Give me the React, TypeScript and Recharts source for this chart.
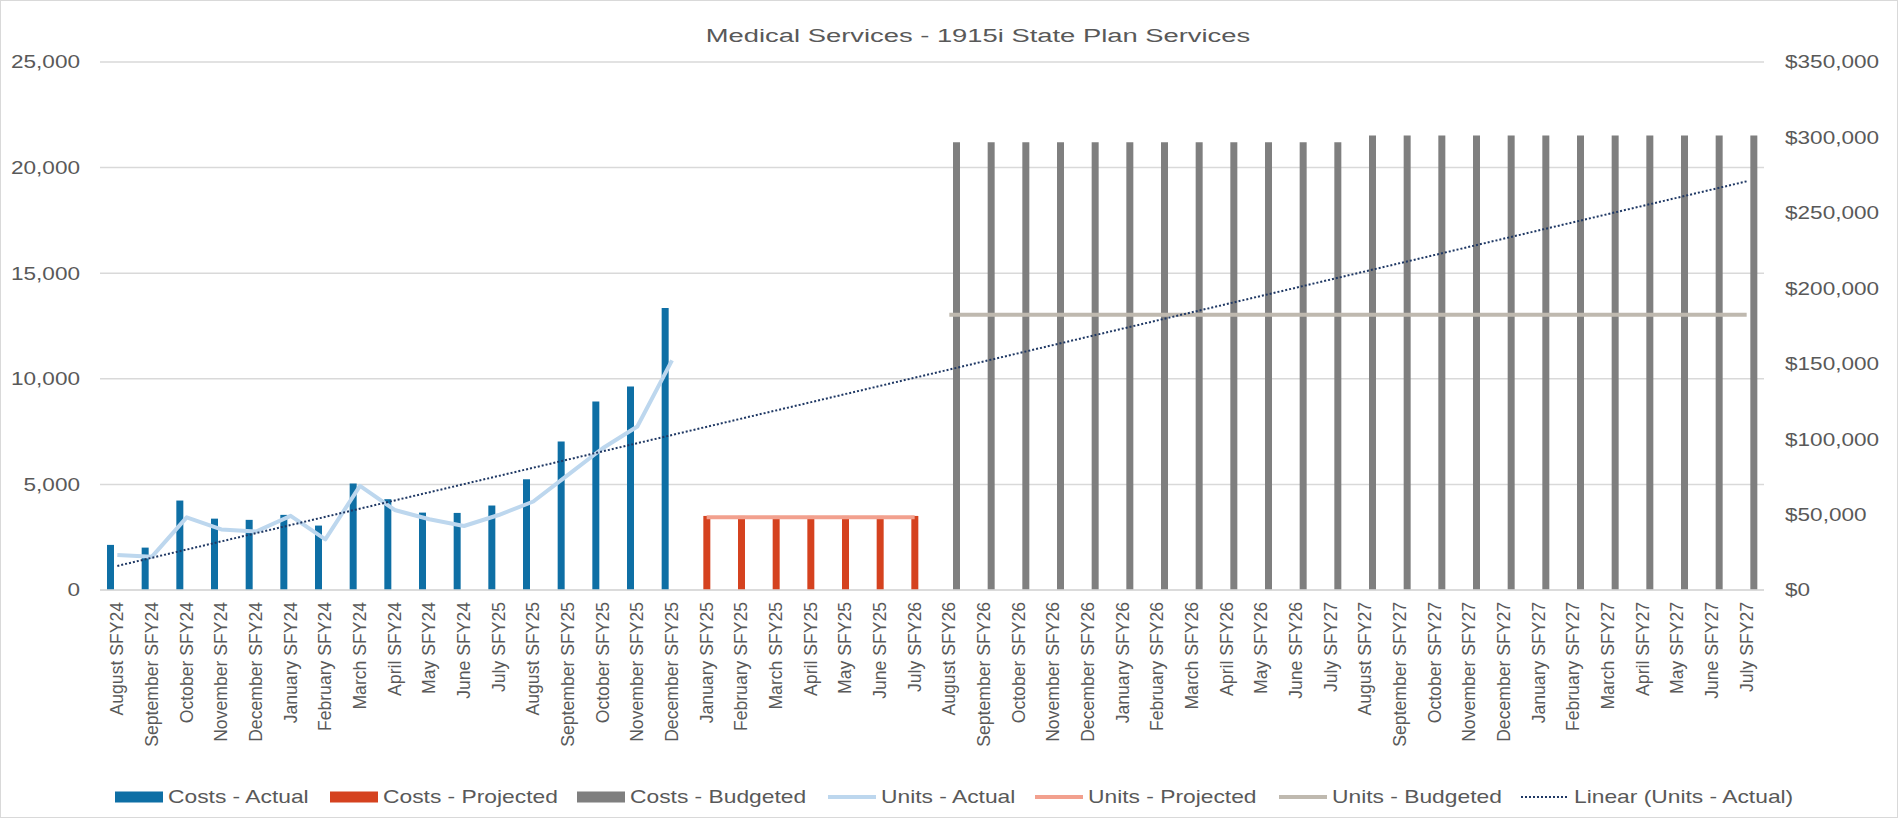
import React from "react";
import { ComposedChart, Bar, Line, XAxis, YAxis, CartesianGrid } from "recharts";

// ── data ──
const months = [
  "August SFY24", "September SFY24", "October SFY24", "November SFY24", "December SFY24",
  "January SFY24", "February SFY24", "March SFY24", "April SFY24", "May SFY24", "June SFY24",
  "July SFY25", "August SFY25", "September SFY25", "October SFY25", "November SFY25",
  "December SFY25", "January SFY25", "February SFY25", "March SFY25", "April SFY25",
  "May SFY25", "June SFY25", "July SFY26", "August SFY26", "September SFY26", "October SFY26",
  "November SFY26", "December SFY26", "January SFY26", "February SFY26", "March SFY26",
  "April SFY26", "May SFY26", "June SFY26", "July SFY27", "August SFY27", "September SFY27",
  "October SFY27", "November SFY27", "December SFY27", "January SFY27", "February SFY27",
  "March SFY27", "April SFY27", "May SFY27", "June SFY27", "July SFY27",
];

// costs (right axis, $)
const costsActual = [
  29900, 28100, 59300, 47300, 46500, 49800, 42700, 70600, 60200, 51300, 51100, 56000,
  73400, 98400, 125000, 134900, 186900,
];
const PROJECTED_START = 17;
const costsProjected = [49100, 49100, 49100, 49100, 49100, 49100, 49100];
const BUDGETED_START = 24;
const costsBudgeted = [
  296800, 296800, 296800, 296800, 296800, 296800, 296800, 296800, 296800, 296800, 296800, 296800,
  301300, 301300, 301300, 301300, 301300, 301300, 301300, 301300, 301300, 301300, 301300, 301300,
];

// units (left axis)
const unitsActual = [
  1660, 1580, 3440, 2870, 2770, 3510, 2400, 4930, 3790, 3350, 3030, 3550, 4190, 5450, 6710,
  7740, 10870,
];
const unitsProjected = [3440, 3440, 3440, 3440, 3440, 3440, 3440];
const unitsBudgeted = [
  13030, 13030, 13030, 13030, 13030, 13030, 13030, 13030, 13030, 13030, 13030, 13030,
  13030, 13030, 13030, 13030, 13030, 13030, 13030, 13030, 13030, 13030, 13030, 13030,
];
// trendline end points (first and last month)
const unitsTrend = [1140, 19350];

const leftTicks = [0, 5000, 10000, 15000, 20000, 25000];
const rightTicks = [0, 50000, 100000, 150000, 200000, 250000, 300000, 350000];

const at = (arr: number[], start: number, i: number) => {
  const v = arr[i - start];
  return v === undefined ? null : v;
};

const chartData = months.map((m, i) => ({
  month: m,
  costsActual: at(costsActual, 0, i),
  costsProjected: at(costsProjected, PROJECTED_START, i),
  costsBudgeted: at(costsBudgeted, BUDGETED_START, i),
  unitsActual: at(unitsActual, 0, i),
  unitsProjected: at(unitsProjected, PROJECTED_START, i),
  unitsBudgeted: at(unitsBudgeted, BUDGETED_START, i),
  trend: i === 0 ? unitsTrend[0] : i === months.length - 1 ? unitsTrend[1] : null,
}));

const FONT = '"Liberation Sans", Arial, Helvetica, sans-serif';
const TEXT = "#595959";
const GRID = "#d9d9d9";

const C_ACTUAL = "#0E6FA5";
const C_PROJECTED = "#D5421F";
const C_BUDGETED = "#7F7F7F";
const U_ACTUAL = "#BDD7EE";
const U_PROJECTED = "#F2A08E";
const U_BUDGETED = "#BFB9AF";
const TREND = "#1F3864";

const LEFT_LABEL_X = 80;
const RIGHT_LABEL_X = 1785;
const X_LABEL_TOP = 602;

// eslint-disable-next-line @typescript-eslint/no-explicit-any
function LeftTick(props: any) {
  const { y, payload } = props;
  return (
    <text
      transform={`translate(${LEFT_LABEL_X},${y}) scale(1.22,1)`}
      textAnchor="end"
      dy="0.35em"
      fontSize={18.5}
      fontFamily={FONT}
      fill={TEXT}
    >
      {Number(payload.value).toLocaleString("en-US")}
    </text>
  );
}

// eslint-disable-next-line @typescript-eslint/no-explicit-any
function RightTick(props: any) {
  const { y, payload } = props;
  return (
    <text
      transform={`translate(${RIGHT_LABEL_X},${y}) scale(1.22,1)`}
      textAnchor="start"
      dy="0.35em"
      fontSize={18.5}
      fontFamily={FONT}
      fill={TEXT}
    >
      {"$" + Number(payload.value).toLocaleString("en-US")}
    </text>
  );
}

// eslint-disable-next-line @typescript-eslint/no-explicit-any
function MonthTick(props: any) {
  const { x, payload } = props;
  return (
    <text
      x={x}
      y={X_LABEL_TOP}
      transform={`rotate(-90, ${x}, ${X_LABEL_TOP})`}
      textAnchor="end"
      dy="0.35em"
      fontSize={17.6}
      fontFamily={FONT}
      fill={TEXT}
    >
      {payload.value}
    </text>
  );
}

const legendItems = [
  { name: "Costs - Actual", color: C_ACTUAL, kind: "bar", left: 115 },
  { name: "Costs - Projected", color: C_PROJECTED, kind: "bar", left: 330 },
  { name: "Costs - Budgeted", color: C_BUDGETED, kind: "bar", left: 577 },
  { name: "Units - Actual", color: U_ACTUAL, kind: "line", left: 828 },
  { name: "Units - Projected", color: U_PROJECTED, kind: "line", left: 1035 },
  { name: "Units - Budgeted", color: U_BUDGETED, kind: "line", left: 1279 },
  { name: "Linear (Units - Actual)", color: TREND, kind: "dots", left: 1521 },
];

function Legend() {
  return (
    <>
      {legendItems.map((it) => (
        <div
          key={it.name}
          style={{
            position: "absolute",
            left: it.left,
            top: 787,
            height: 20,
            display: "flex",
            alignItems: "center",
            whiteSpace: "nowrap",
          }}
        >
          <svg width={48} height={12} style={{ marginRight: 5 }}>
            {it.kind === "bar" && <rect x={0} y={0.5} width={48} height={11} fill={it.color} />}
            {it.kind === "line" && (
              <line x1={0} y1={6} x2={48} y2={6} stroke={it.color} strokeWidth={4} />
            )}
            {it.kind === "dots" && (
              <line x1={0} y1={6} x2={48} y2={6} stroke={it.color} strokeWidth={2} strokeDasharray="2 2" />
            )}
          </svg>
          <span
            style={{
              display: "inline-block",
              fontSize: 19,
              lineHeight: "20px",
              color: TEXT,
              transform: "scaleX(1.2)",
              transformOrigin: "left center",
            }}
          >
            {it.name}
          </span>
        </div>
      ))}
    </>
  );
}

export default function App() {
  return (
    <div
      style={{
        position: "absolute",
        left: 0,
        top: 0,
        width: 1902,
        height: 820,
        background: "#fff",
        fontFamily: FONT,
        overflow: "hidden",
      }}
    >
      <div
        style={{
          position: "absolute",
          left: 0,
          top: 0,
          width: 1896,
          height: 816,
          border: `1px solid ${GRID}`,
        }}
      />
      <div
        style={{
          position: "absolute",
          left: 978,
          top: 27,
          fontSize: 18,
          lineHeight: "18px",
          color: TEXT,
          whiteSpace: "nowrap",
          transform: "translateX(-50%) scaleX(1.52)",
        }}
      >
        Medical Services - 1915i State Plan Services
      </div>

      <ComposedChart
        width={1902}
        height={820}
        data={chartData}
        margin={{ top: 62, right: 0, bottom: 0, left: 0 }}
        barGap={0}
        style={{ position: "absolute", left: 0, top: 0 }}
      >
        <CartesianGrid yAxisId="left" vertical={false} stroke={GRID} strokeWidth={1.5} />
        <XAxis
          dataKey="month"
          interval={0}
          height={230}
          tickLine={false}
          axisLine={{ stroke: GRID, strokeWidth: 1.5 }}
          tick={<MonthTick />}
        />
        <YAxis
          yAxisId="left"
          orientation="left"
          width={100}
          domain={[0, 25000]}
          ticks={leftTicks}
          axisLine={false}
          tickLine={false}
          tick={<LeftTick />}
        />
        <YAxis
          yAxisId="right"
          orientation="right"
          width={138}
          domain={[0, 350000]}
          ticks={rightTicks}
          axisLine={false}
          tickLine={false}
          tick={<RightTick />}
        />

        <Bar yAxisId="right" dataKey="costsActual" name="Costs - Actual" fill={C_ACTUAL} barSize={7} isAnimationActive={false} />
        <Bar yAxisId="right" dataKey="costsProjected" name="Costs - Projected" fill={C_PROJECTED} barSize={7} isAnimationActive={false} />
        <Bar yAxisId="right" dataKey="costsBudgeted" name="Costs - Budgeted" fill={C_BUDGETED} barSize={7} isAnimationActive={false} />

        <Line
          yAxisId="left"
          dataKey="unitsActual"
          name="Units - Actual"
          type="linear"
          stroke={U_ACTUAL}
          strokeWidth={4}
          strokeLinejoin="round"
          dot={false}
          activeDot={false}
          isAnimationActive={false}
        />
        <Line
          yAxisId="left"
          dataKey="unitsProjected"
          name="Units - Projected"
          type="linear"
          stroke={U_PROJECTED}
          strokeWidth={4}
          dot={false}
          activeDot={false}
          isAnimationActive={false}
        />
        <Line
          yAxisId="left"
          dataKey="unitsBudgeted"
          name="Units - Budgeted"
          type="linear"
          stroke={U_BUDGETED}
          strokeWidth={4}
          dot={false}
          activeDot={false}
          isAnimationActive={false}
        />
        <Line
          yAxisId="left"
          dataKey="trend"
          name="Linear (Units - Actual)"
          type="linear"
          connectNulls
          stroke={TREND}
          strokeWidth={2}
          strokeDasharray="2 2"
          dot={false}
          activeDot={false}
          isAnimationActive={false}
        />
      </ComposedChart>

      <Legend />
    </div>
  );
}
